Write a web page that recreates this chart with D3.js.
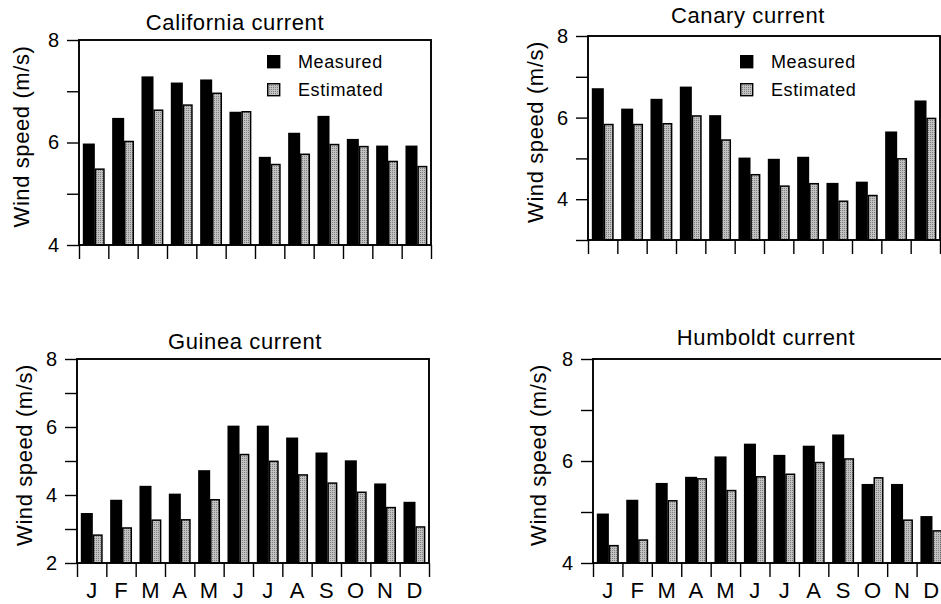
<!DOCTYPE html>
<html>
<head>
<meta charset="utf-8">
<script src="https://cdn.jsdelivr.net/npm/d3@7"></script>
<style>
  body { margin: 0; background: #fff; }
  text { font-family: "Liberation Sans", Arial, Helvetica, sans-serif; fill: #000; }
</style>
</head>
<body>
<div id="chart"></div>
<script>
// monthly wind speed (m/s)
var months = ["J", "F", "M", "A", "M", "J", "J", "A", "S", "O", "N", "D"];

var californiaMeasured = [5.98, 6.48, 7.29, 7.17, 7.23, 6.60, 5.72, 6.19, 6.52, 6.07, 5.94, 5.94];
var californiaEstimated = [5.48, 6.02, 6.63, 6.73, 6.96, 6.60, 5.57, 5.77, 5.96, 5.92, 5.63, 5.53];

var canaryMeasured = [6.72, 6.22, 6.46, 6.76, 6.06, 5.02, 4.99, 5.04, 4.40, 4.43, 5.66, 6.42];
var canaryEstimated = [5.83, 5.83, 5.85, 6.04, 5.45, 4.60, 4.32, 4.38, 3.95, 4.09, 4.99, 5.98];

var guineaMeasured = [3.47, 3.86, 4.27, 4.04, 4.73, 6.04, 6.04, 5.69, 5.25, 5.02, 4.34, 3.80];
var guineaEstimated = [2.82, 3.03, 3.26, 3.27, 3.86, 5.19, 4.99, 4.59, 4.35, 4.08, 3.63, 3.06];

var humboldtMeasured = [4.97, 5.24, 5.57, 5.69, 6.09, 6.34, 6.12, 6.30, 6.52, 5.55, 5.55, 4.92];
var humboldtEstimated = [4.34, 4.45, 5.22, 5.65, 5.42, 5.69, 5.74, 5.97, 6.04, 5.67, 4.84, 4.63];

var seriesNames = ["Measured", "Estimated"];

var svgWidth = 941;
var svgHeight = 604;

var svg = d3.select("#chart")
  .append("svg")
  .attr("width", svgWidth)
  .attr("height", svgHeight);

// stippled grey fill used for the estimated bars
var pat = svg.append("defs").append("pattern")
  .attr("id", "stipple")
  .attr("patternUnits", "userSpaceOnUse")
  .attr("width", 2)
  .attr("height", 2);
pat.append("rect").attr("width", 2).attr("height", 2).attr("fill", "#c2c2c2");
pat.append("rect").attr("width", 1).attr("height", 1).attr("fill", "#7e7e7e");

var panels = [
  {title: "California current", measured: californiaMeasured, estimated: californiaEstimated,
   left: 79, right: 431, top: 40, bottom: 245, domain: [4, 8], labels: [4, 6, 8],
   titleX: 235, titleY: 30, labelX: 21, legend: {x: 267, y: 55}, months: false},
  {title: "Canary current", measured: canaryMeasured, estimated: canaryEstimated,
   left: 588, right: 940, top: 36, bottom: 240, domain: [3, 8], labels: [4, 6, 8],
   titleX: 748, titleY: 23, labelX: 535, legend: {x: 740, y: 55}, months: false},
  {title: "Guinea current", measured: guineaMeasured, estimated: guineaEstimated,
   left: 77, right: 429, top: 359, bottom: 563, domain: [2, 8], labels: [2, 4, 6, 8],
   titleX: 245, titleY: 349, labelX: 24, legend: null, months: true},
  {title: "Humboldt current", measured: humboldtMeasured, estimated: humboldtEstimated,
   left: 593, right: 946, top: 359, bottom: 563, domain: [4, 8], labels: [4, 6, 8],
   titleX: 766, titleY: 345, labelX: 538, legend: null, months: true}
];

panels.forEach(function(p) {
  var g = svg.append("g");

  var x = d3.scaleBand()
    .domain(d3.range(12))
    .range([p.left, p.right]);
  var xLin = d3.scaleLinear()
    .domain([0, 12])
    .range([p.left, p.right]);
  var y = d3.scaleLinear()
    .domain(p.domain)
    .range([p.bottom, p.top]);
  var bw = x.bandwidth();

  // bars
  g.selectAll(".meas")
    .data(p.measured)
    .enter()
    .append("rect")
    .attr("x", (d, i) => x(i) + bw * 0.13)
    .attr("width", bw * 0.41)
    .attr("y", d => y(d))
    .attr("height", d => y(p.domain[0]) - y(d))
    .attr("fill", "#000");

  g.selectAll(".est")
    .data(p.estimated)
    .enter()
    .append("rect")
    .attr("x", (d, i) => x(i) + bw * 0.54 + 0.6)
    .attr("width", bw * 0.29)
    .attr("y", d => y(d))
    .attr("height", d => y(p.domain[0]) - y(d))
    .attr("fill", "url(#stipple)")
    .attr("stroke", "#000")
    .attr("stroke-width", 1.5);

  // frame
  g.append("rect")
    .attr("x", p.left)
    .attr("y", p.top)
    .attr("width", p.right - p.left)
    .attr("height", p.bottom - p.top)
    .attr("fill", "none")
    .attr("stroke", "#000")
    .attr("stroke-width", 1.9);

  // y axis
  var yTicks = d3.range(p.domain[0], p.domain[1] + 1);
  var leftAxis = d3.axisLeft(y)
    .tickValues(yTicks)
    .tickSize(12)
    .tickSizeOuter(0)
    .tickPadding(8)
    .tickFormat(d => p.labels.indexOf(d) >= 0 ? d : "");
  var ya = g.append("g")
    .attr("transform", `translate(${p.left}, 0)`)
    .call(leftAxis);
  ya.select(".domain").remove();
  ya.selectAll("line").attr("stroke-width", 1.4);
  ya.selectAll("text").style("font-size", "20px");

  // x ticks at month boundaries
  var bottomAxis = d3.axisBottom(xLin)
    .tickValues(d3.range(13))
    .tickSize(14)
    .tickSizeOuter(0)
    .tickFormat("");
  var xa = g.append("g")
    .attr("transform", `translate(0, ${p.bottom})`)
    .call(bottomAxis);
  xa.select(".domain").remove();
  xa.selectAll("line").attr("stroke-width", 1.4);

  if (p.months) {
    var monthAxis = d3.axisBottom(x)
      .tickSize(0)
      .tickPadding(19)
      .tickFormat(i => months[i]);
    var ma = g.append("g")
      .attr("transform", `translate(0, ${p.bottom})`)
      .call(monthAxis);
    ma.select(".domain").remove();
    ma.selectAll("text").style("font-size", "22px");
  }

  // title
  g.append("text")
    .attr("x", p.titleX)
    .attr("y", p.titleY)
    .attr("text-anchor", "middle")
    .style("font-size", "22px")
    .style("letter-spacing", "0.6px")
    .text(p.title);

  // y label
  g.append("text")
    .attr("transform", `translate(${p.labelX}, ${(p.top + p.bottom) / 2 - 6}) rotate(-90)`)
    .attr("text-anchor", "middle")
    .attr("dy", "0.35em")
    .style("font-size", "22px")
    .style("letter-spacing", "0.6px")
    .text("Wind speed (m/s)");

  // legend
  if (p.legend) {
    var lg = g.append("g")
      .attr("transform", `translate(${p.legend.x}, ${p.legend.y})`);
    seriesNames.forEach(function(name, i) {
      lg.append("rect")
        .attr("x", 0.7)
        .attr("y", i * 28 + 0.7)
        .attr("width", 12)
        .attr("height", 12)
        .attr("fill", i == 0 ? "#000" : "url(#stipple)")
        .attr("stroke", "#000")
        .attr("stroke-width", 1.4);
      lg.append("text")
        .attr("x", 31)
        .attr("y", i * 28 + 13)
        .style("font-size", "18px")
        .style("letter-spacing", "0.6px")
        .text(name);
    });
  }
});
</script>
</body>
</html>
